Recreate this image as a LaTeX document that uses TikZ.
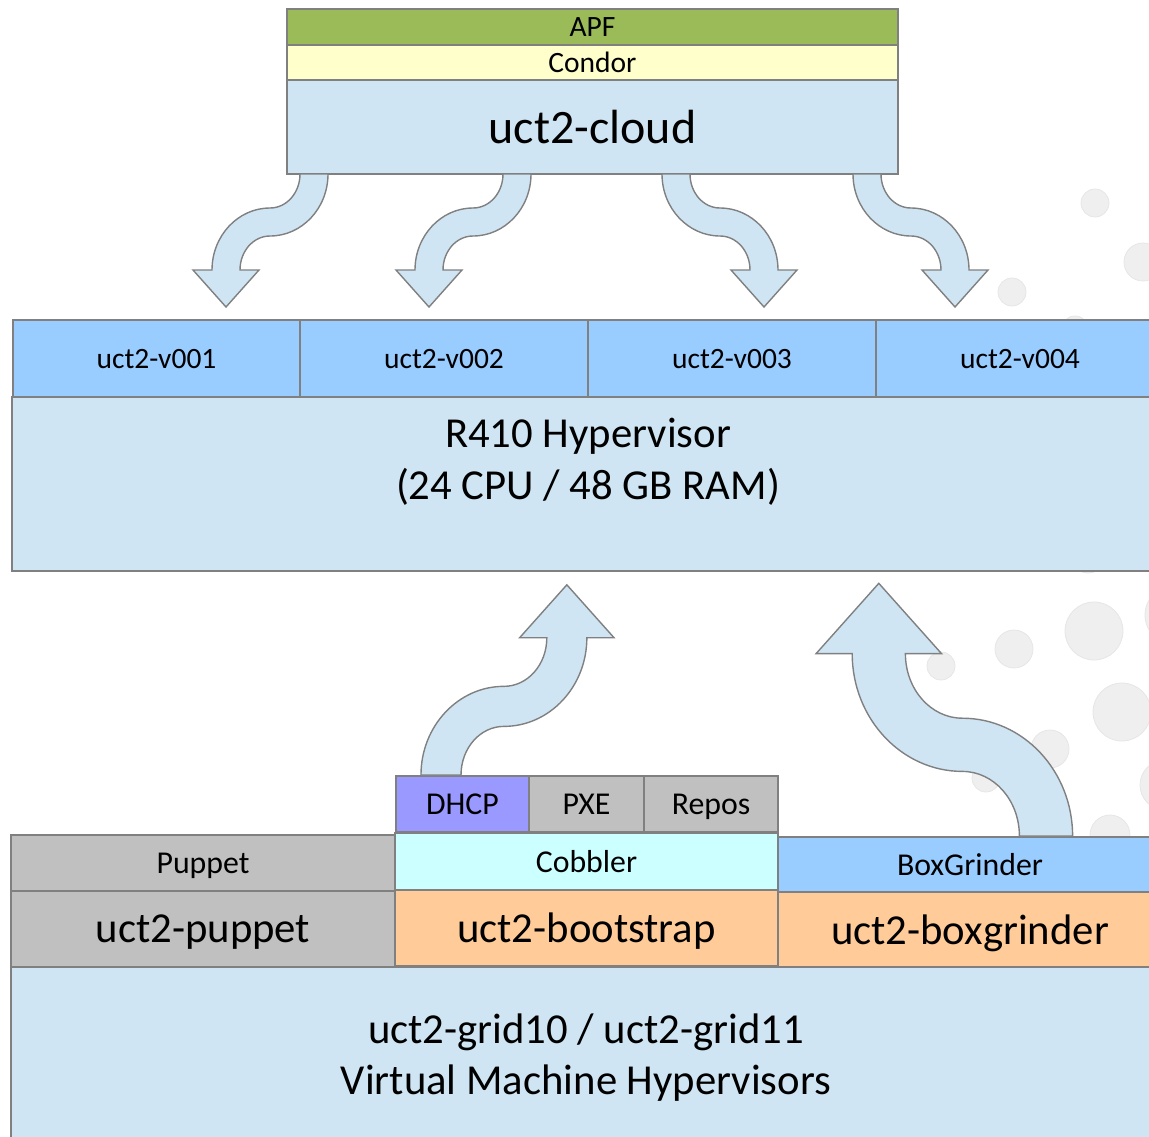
\documentclass[tikz,border=0pt]{standalone}
\usepackage{fontspec}
\setmainfont{Carlito}
\definecolor{apfgreen}{HTML}{9BBB59}
\definecolor{condory}{HTML}{FFFFCC}
\definecolor{lblue}{HTML}{CFE5F3}
\definecolor{vmblue}{HTML}{99CCFF}
\definecolor{dhcpc}{HTML}{9999FF}
\definecolor{lgray}{HTML}{C0C0C0}
\definecolor{cobc}{HTML}{CCFFFF}
\definecolor{peach}{HTML}{FFCC99}
\definecolor{bord}{HTML}{808080}
\definecolor{bubble}{HTML}{EFEFEF}
\definecolor{bubbleedge}{HTML}{E6E6E6}
\tikzset{
  box/.style={draw=bord, line width=1.8pt, inner sep=0pt, outer sep=0pt, anchor=north west, text=black, text depth=0pt},
  small/.style={font=\fontsize{29.5}{34}\selectfont},
  smallb/.style={font=\fontsize{31.8}{36}\selectfont},
  big/.style={font=\fontsize{42.7}{50}\selectfont},
  bubblestyle/.style={fill=bubble, draw=bubbleedge, line width=0.8pt},
  arrowstyle/.style={fill=lblue, draw=bord, line width=1.4pt, line join=miter},
  sarrow/.pic={
    \path[arrowstyle] (-14,0) .. controls (-14,18.8) and (-27.4,34) .. (-44,34)
      .. controls (-76,34) and (-102,61.8) .. (-102,96)
      -- (-121,96) -- (-88,133) -- (-55,96) -- (-74,96)
      .. controls (-74,77.2) and (-60.6,62) .. (-44,62)
      .. controls (-12,62) and (14,34.2) .. (14,0) -- cycle;
  }
}
\begin{document}
\begin{tikzpicture}[x=1pt,y=-1pt]
\useasboundingbox (0,0) rectangle (1149,1136);
\clip (0,0) rectangle (1149,1136);
% background bubbles
\foreach \cx/\cy/\r in {1095/203/14, 1143/262/19, 1012/292/14, 1075/330/14,
  1088/555/18, 1094/631/29, 1014/649/19, 941/666/14, 1122/712/29,
  1050/749/19, 986/778/14, 1110/835/20, 1175/615/30, 1165/785/25}
  \fill[bubblestyle] (\cx,\cy) circle[radius=\r];
% top stack
\node[box, fill=apfgreen, minimum width=611pt, minimum height=36pt, small] (apf) at (287,9) {APF};
\node[box, fill=condory, minimum width=611pt, minimum height=35pt, small] (condor) at (287,45) {Condor};
\node[box, fill=lblue, minimum width=611pt, minimum height=94pt, font=\fontsize{48}{56}\selectfont] (cloud) at (287,80) {uct2-cloud};
% VMs
\node[box, fill=vmblue, minimum width=287pt, minimum height=77pt, small] (v1) at (13,320) {uct2-v001};
\node[box, fill=vmblue, minimum width=288pt, minimum height=77pt, small] (v2) at (300,320) {uct2-v002};
\node[box, fill=vmblue, minimum width=288pt, minimum height=77pt, small] (v3) at (588,320) {uct2-v003};
\node[box, fill=vmblue, minimum width=288pt, minimum height=77pt, small] (v4) at (876,320) {uct2-v004};
\node[box, fill=lblue, minimum width=1152pt, minimum height=174pt] (r410) at (12,397) {};
\node[font=\fontsize{42.7}{52}\selectfont, align=center, inner sep=0pt] (r410t) at (588,462) {R410 Hypervisor\\(24 CPU / 48 GB RAM)};
% bottom
\node[box, fill=dhcpc, minimum width=133pt, minimum height=56pt, smallb] (dhcp) at (396,776) {DHCP};
\node[box, fill=lgray, minimum width=115pt, minimum height=56pt, smallb] (pxe) at (529,776) {PXE};
\node[box, fill=lgray, minimum width=134pt, minimum height=56pt, smallb] (repos) at (644,776) {Repos};
\node[box, fill=lgray, minimum width=384pt, minimum height=56pt, smallb] (puppetl) at (11,835) {Puppet};
\node[box, fill=lgray, minimum width=384pt, minimum height=76pt, big] (puppet) at (11,891) {uct2-puppet};
\node[box, fill=cobc, minimum width=383pt, minimum height=57pt, smallb] (cobbler) at (395,833) {Cobbler};
\node[box, fill=peach, minimum width=383pt, minimum height=76pt, big] (boot) at (395,890) {uct2-bootstrap};
\node[box, fill=vmblue, minimum width=384pt, minimum height=55pt, smallb] (bgl) at (778,837) {BoxGrinder};
\node[box, fill=peach, minimum width=384pt, minimum height=76pt, big] (bg) at (778,892) {uct2-boxgrinder};
\node[box, fill=lblue, minimum width=1150pt, minimum height=200pt] (grid) at (11,967) {};
\node[font=\fontsize{42.7}{51}\selectfont, align=center, inner sep=0pt] (gridt) at (586,1058) {uct2-grid10 / uct2-grid11\\Virtual Machine Hypervisors};
% arrows
\coordinate (a1) at (314,174);
\coordinate (a2) at (517,174);
\coordinate (a3) at (676,174);
\coordinate (a4) at (867,174);
\coordinate (b1) at (441,775);
\coordinate (b2) at (1046,836);
\pic at (a1) {sarrow};
\pic at (a2) {sarrow};
\pic[xscale=-1] at (a3) {sarrow};
\pic[xscale=-1] at (a4) {sarrow};
\pic[scale=1.43, xscale=-1, yscale=-1] at (b1) {sarrow};
\pic[scale=1.9, yscale=-1] at (b2) {sarrow};
\end{tikzpicture}
\end{document}
